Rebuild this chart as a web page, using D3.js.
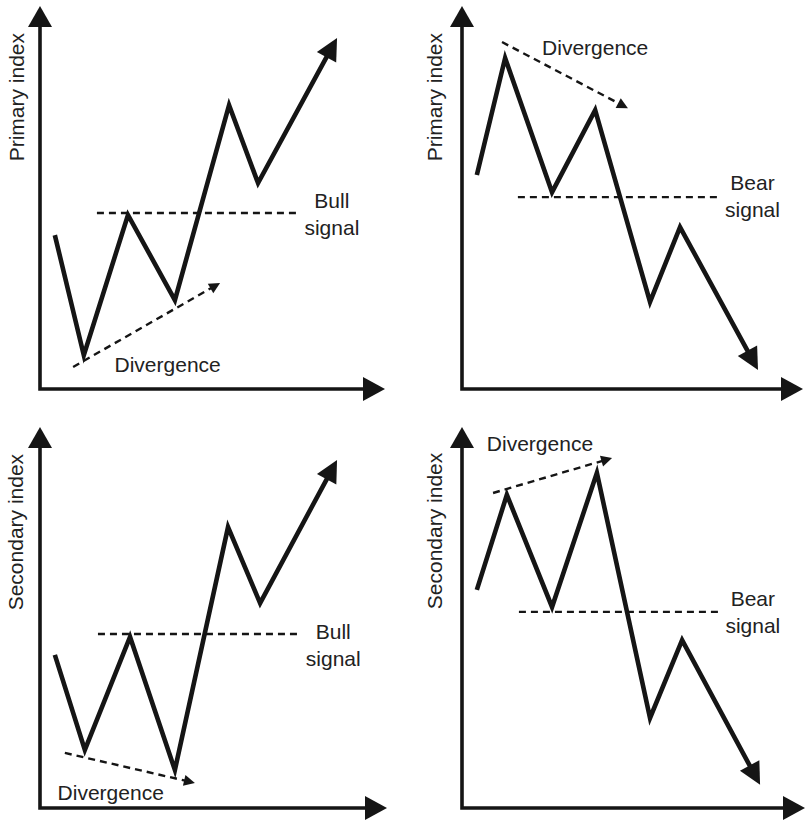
<!DOCTYPE html>
<html>
<head>
<meta charset="utf-8">
<script src="https://cdn.jsdelivr.net/npm/d3@7"></script>
<style>
  html, body { margin: 0; padding: 0; background: #fff; }
  svg text { font-family: "Liberation Sans", Arial, Helvetica, sans-serif; fill: #222; }
</style>
</head>
<body>
<svg id="chart"></svg>
<script>
// ---- data (every panel uses a 0..100 x 0..100 index space) ----
const axisTitles = ["Primary index", "Primary index", "Secondary index", "Secondary index"];
const signalWords = [["Bull", "signal"], ["Bear", "signal"], ["Bull", "signal"], ["Bear", "signal"]];
const divergenceText = "Divergence";

// zig-zag index paths, last point is the arrow tip
const bullPrimary   = [[4.3, 40.5], [12.7, 8.9], [25.5, 45.8], [39.1, 23.4], [54.8, 74.7], [63.2, 54.2], [86.1, 92.4]];
const bearPrimary   = [[4.3, 56.3], [12.5, 87.1], [26.1, 51.8], [38.6, 73.4], [54.5, 22.9], [63.2, 42.6], [85.8, 5.0]];
const bullSecondary = [[4.3, 40.3], [13.0, 15.3], [26.1, 45.0], [39.1, 10.0], [54.5, 73.9], [63.8, 53.9], [86.1, 91.6]];
const bearSecondary = [[4.3, 57.4], [13.0, 82.4], [26.1, 52.9], [39.1, 88.2], [54.5, 23.7], [63.8, 44.2], [86.4, 6.1]];
const indexPaths = [bullPrimary, bearPrimary, bullSecondary, bearSecondary];

// signal level (dashed horizontal) and its x-span
const signalLevels = [46.3, 50.5, 45.8, 51.6];
const signalStart  = [16.5, 16.2, 16.8, 16.5];
const signalEnd    = [75.4, 74.8, 75.9, 75.4];

// divergence trend (dashed arrow): start and tip
const divergenceFrom = [[9.6, 5.8], [11.6, 91.3], [7.2, 14.5], [9.0, 82.9]];
const divergenceTo   = [[52.2, 27.9], [48.1, 73.9], [44.9, 6.6], [43.5, 92.1]];

// label anchors (text baseline, centred)
const divergenceLabelAt = [[37.0, 4.5], [38.6, 87.9], [20.5, 2.1], [22.6, 93.9]];
const signalLabelAt     = [[84.6, 47.6], [84.2, 52.4], [85.0, 44.5], [84.3, 53.2]];
const titleCentre       = [76.8, 76.8, 72.6, 72.9];

// ---- layout ----
const width = 805, height = 820;
const panels = [
  { ox: 40,  oy: 389, xTip: 385, yTip: 6,   titleDx: -16 },
  { ox: 462, oy: 389, xTip: 803, yTip: 6,   titleDx: -20 },
  { ox: 40,  oy: 808, xTip: 387, yTip: 427, titleDx: -17 },
  { ox: 462, oy: 808, xTip: 805, yTip: 427, titleDx: -20 }
];
const ink = "#151515";

const svg = d3.select("#chart")
  .attr("width", width)
  .attr("height", height);

// triangle arrowhead pointing from p0 toward tip p1
function arrowHead(p0, p1, len, wid) {
  const dx = p1[0] - p0[0], dy = p1[1] - p0[1];
  const d = Math.hypot(dx, dy);
  const ux = dx / d, uy = dy / d;
  const bx = p1[0] - ux * len, by = p1[1] - uy * len;
  const nx = -uy * wid / 2, ny = ux * wid / 2;
  return { pts: [p1, [bx + nx, by + ny], [bx - nx, by - ny]], base: [bx + ux * 2, by + uy * 2] };
}

panels.forEach((p, i) => {
  const x = d3.scaleLinear().domain([0, 100]).range([p.ox, p.ox + 345]);
  const y = d3.scaleLinear().domain([0, 100]).range([p.oy, p.oy - 380]);
  const g = svg.append("g").attr("class", "panel");

  // axes with arrowheads
  const yHead = arrowHead([p.ox, p.oy], [p.ox, p.yTip], 21, 24);
  const xHead = arrowHead([p.ox, p.oy], [p.xTip, p.oy], 22, 24);
  g.append("path")
    .attr("d", `M${yHead.base[0]},${yHead.base[1]}L${p.ox},${p.oy}L${xHead.base[0]},${xHead.base[1]}`)
    .attr("fill", "none")
    .attr("stroke", ink)
    .attr("stroke-width", 3.6)
    .attr("stroke-linejoin", "miter");
  [yHead, xHead].forEach(h => {
    g.append("polygon").attr("points", h.pts.map(q => q.join(",")).join(" ")).attr("fill", ink);
  });

  // axis title
  g.append("text")
    .attr("transform", `translate(${p.ox + p.titleDx},${y(titleCentre[i])}) rotate(-90)`)
    .attr("text-anchor", "middle")
    .attr("font-size", "21px")
    .text(axisTitles[i]);

  // signal level
  g.append("line")
    .attr("x1", x(signalStart[i])).attr("x2", x(signalEnd[i]))
    .attr("y1", y(signalLevels[i])).attr("y2", y(signalLevels[i]))
    .attr("stroke", ink)
    .attr("stroke-width", 2.4)
    .attr("stroke-dasharray", "7,5");

  const sl = g.append("text")
    .attr("x", x(signalLabelAt[i][0]))
    .attr("y", y(signalLabelAt[i][1]))
    .attr("text-anchor", "middle")
    .attr("font-size", "21px");
  sl.append("tspan").text(signalWords[i][0]);
  sl.append("tspan").attr("x", x(signalLabelAt[i][0])).attr("dy", 27).text(signalWords[i][1]);

  // divergence dashed arrow
  const a = [x(divergenceFrom[i][0]), y(divergenceFrom[i][1])];
  const b = [x(divergenceTo[i][0]), y(divergenceTo[i][1])];
  const dHead = arrowHead(a, b, 11, 11);
  g.append("line")
    .attr("x1", a[0]).attr("y1", a[1])
    .attr("x2", dHead.base[0]).attr("y2", dHead.base[1])
    .attr("stroke", ink)
    .attr("stroke-width", 2.4)
    .attr("stroke-dasharray", "7,5");
  g.append("polygon").attr("points", dHead.pts.map(q => q.join(",")).join(" ")).attr("fill", ink);

  g.append("text")
    .attr("x", x(divergenceLabelAt[i][0]))
    .attr("y", y(divergenceLabelAt[i][1]))
    .attr("text-anchor", "middle")
    .attr("font-size", "21px")
    .text(divergenceText);

  // index path with arrow at the end
  const pts = indexPaths[i].map(d => [x(d[0]), y(d[1])]);
  const n = pts.length;
  const head = arrowHead(pts[n - 2], pts[n - 1], 22, 22);
  const linePts = pts.slice(0, n - 1).concat([head.base]);
  g.append("path")
    .attr("d", d3.line()(linePts))
    .attr("fill", "none")
    .attr("stroke", ink)
    .attr("stroke-width", 4.6)
    .attr("stroke-linejoin", "miter")
    .attr("stroke-miterlimit", 8);
  g.append("polygon").attr("points", head.pts.map(q => q.join(",")).join(" ")).attr("fill", ink);
});
</script>
</body>
</html>
